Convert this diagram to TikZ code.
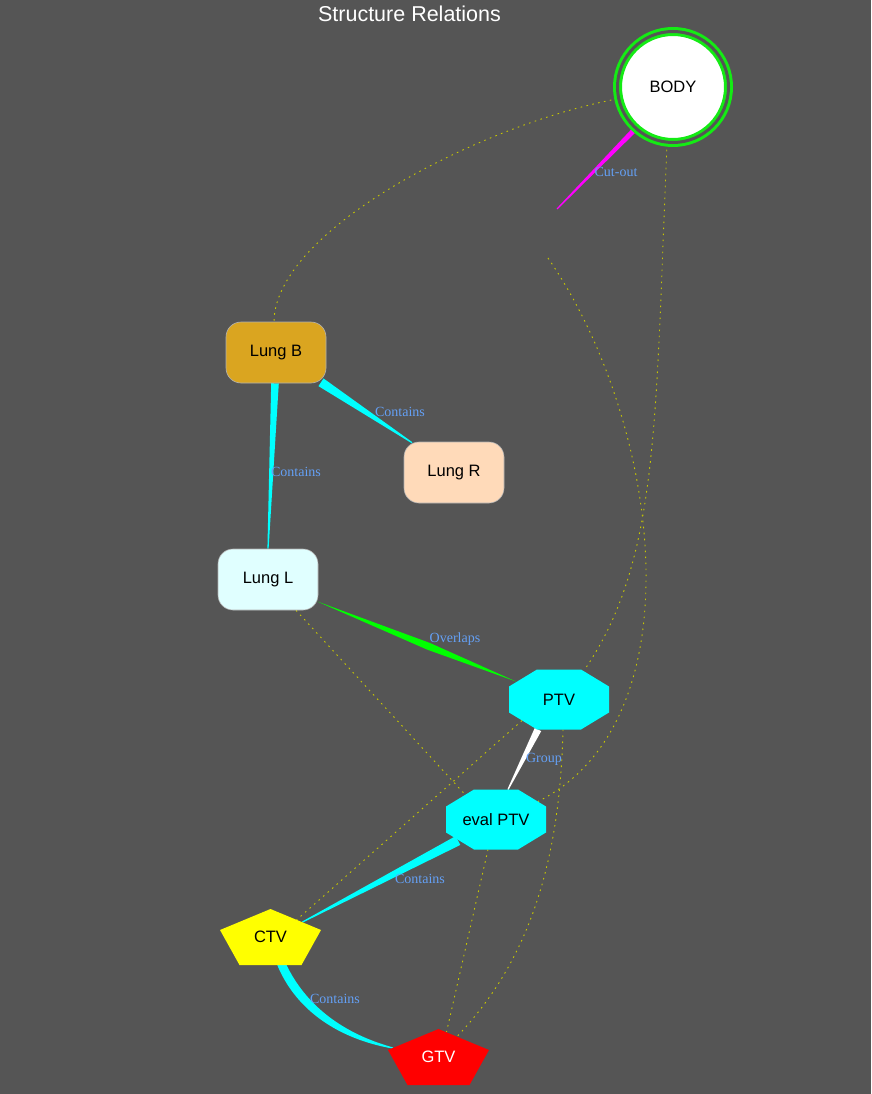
\documentclass[tikz,border=0pt]{standalone}
\usepackage{fontspec}
\setmainfont{Liberation Sans}
\newfontfamily\lblfont{Liberation Serif}
\usetikzlibrary{calc}
\pgfdeclarelayer{back}
\pgfdeclarelayer{edgelayer}
\pgfdeclarelayer{shapelayer}
\pgfsetlayers{back,edgelayer,shapelayer,main}
\definecolor{bg}{RGB}{85,85,85}
\definecolor{bodygreen}{RGB}{20,235,20}
\definecolor{lungb}{RGB}{218,165,32}
\definecolor{lungr}{RGB}{255,218,185}
\definecolor{lungl}{RGB}{224,255,255}
\definecolor{lblcol}{RGB}{100,160,245}
\definecolor{dotcol}{RGB}{200,200,0}
\definecolor{cyanc}{RGB}{0,255,255}
\definecolor{magc}{RGB}{255,0,255}
\definecolor{greenc}{RGB}{0,255,0}
\definecolor{yellowc}{RGB}{255,255,0}
\definecolor{redc}{RGB}{255,0,0}
\newcommand\taperedge[4]{\fill[#1] ($#2!#4!90:#3$) -- ($#3!0.6pt!-90:#2$) -- ($#3!0.6pt!90:#2$) -- ($#2!#4!-90:#3$) -- cycle;}
\newcommand\octagonat[2]{\fill[#1] ($(#2)+(-50,-13)$) -- ($(#2)+(-22,-30)$) -- ($(#2)+(22,-30)$) -- ($(#2)+(50,-13)$) -- ($(#2)+(50,13)$) -- ($(#2)+(22,30)$) -- ($(#2)+(-22,30)$) -- ($(#2)+(-50,13)$) -- cycle;}
\newcommand\pentagonat[2]{\fill[#1] ($(#2)+(0,-28)$) -- ($(#2)+(50.5,-7)$) -- ($(#2)+(31,28)$) -- ($(#2)+(-31,28)$) -- ($(#2)+(-50.5,-7)$) -- cycle;}
\tikzset{
  nodefont/.style={font=\fontsize{16.5pt}{18pt}\selectfont},
  bodynode/.style={circle, minimum size=111pt, inner sep=0pt, fill=white, draw=bodygreen, line width=3pt, double=bg, double distance=3pt, nodefont},
  rbox/.style={rounded corners=15pt, minimum width=100pt, minimum height=61pt, inner sep=0pt, draw=black!30, line width=0.6pt, nodefont},
  octo/.style={minimum width=100pt, minimum height=60pt, inner sep=0pt, nodefont},
  penta/.style={minimum width=101pt, minimum height=56pt, inner sep=0pt, nodefont},
  elabel/.style={text=lblcol, inner sep=0pt, font=\lblfont\fontsize{14pt}{16pt}\selectfont},
  dotedge/.style={draw=dotcol, line width=0.9pt, dash pattern=on 1.6pt off 4.4pt},
}
\begin{document}
\begin{tikzpicture}[x=1pt,y=-1pt]
\begin{pgfonlayer}{back}
\fill[bg] (0,0) rectangle (871,1094);
\end{pgfonlayer}
\useasboundingbox (0,0) rectangle (871,1094);

\node[text=white, font=\fontsize{21.5pt}{24pt}\selectfont] (title) at (409.5,14) {Structure Relations};

% nodes
\node[bodynode] (body) at (673,87) {BODY};
\coordinate (cut) at (552,234);
\node[rbox, fill=lungb] (lungB) at (276,352.5) {Lung B};
\node[rbox, fill=lungr] (lungR) at (454,472.5) {Lung R};
\node[rbox, fill=lungl] (lungL) at (268,579.5) {Lung L};
\node[octo] (ptv) at (559,699.5) {PTV};
\node[octo] (eptv) at (496,819.5) {eval PTV};
\node[penta] (ctv) at (270.5,937) {CTV};
\node[penta, text=white] (gtv) at (438.5,1057) {GTV};

\begin{pgfonlayer}{shapelayer}
\octagonat{cyanc}{ptv.center}
\octagonat{cyanc}{eptv.center}
\pentagonat{yellowc}{ctv.center}
\pentagonat{redc}{gtv.center}
\end{pgfonlayer}

\begin{pgfonlayer}{edgelayer}
% dotted edges
\draw[dotedge] (body.192) .. controls (480,125) and (275,230) .. ($(lungB.north)+(-2,0)$);
\draw[dotedge] (body.264) .. controls (655,420) and (660,560) .. ($(ptv.center)+(25,-29)$);
\draw[dotedge] ($(cut)+(-4,24)$) .. controls (660,420) and (700,720) .. ($(eptv.center)+(42,-18)$);
\draw[dotedge] ($(lungL.south)+(28,0)$) -- ($(eptv.center)+(-31,-25)$);
\draw[dotedge] ($(ptv.center)+(-37,21)$) -- ($(ctv.center)+(26,-17)$);
\draw[dotedge] ($(ptv.center)+(4,30)$) .. controls (560,860) and (530,960) .. ($(gtv.center)+(18.5,-20.5)$);
\draw[dotedge] ($(eptv.center)+(-8,30)$) -- ($(gtv.center)+(8,-25)$);

% tapered edges
\coordinate (c1s) at (body.228);
\coordinate (c1e) at ($(cut)+(5,-25)$);
\taperedge{magc}{(c1s)}{(c1e)}{2.6pt}

\coordinate (b1s) at ($(lungB.south)+(-1,0)$);
\coordinate (b1e) at (lungL.north);
\taperedge{cyanc}{(b1s)}{(b1e)}{3.8pt}

\coordinate (b2s) at ($(lungB.south)+(45,-1)$);
\coordinate (b2e) at ($(lungR.north)+(-42,1)$);
\taperedge{cyanc}{(b2s)}{(b2e)}{4.6pt}

\coordinate (ovs) at ($(lungL.east)+(-1,22)$);
\coordinate (ove) at ($(ptv.center)+(-43,-18)$);
\coordinate (ovm) at ($(ovs)!0.56!(ove)$);
\fill[greenc] (ovs) -- ($(ovm)!3.6pt!90:(ove)$) -- (ove) -- ($(ovm)!3.6pt!-90:(ove)$) -- cycle;

\coordinate (gs) at ($(ptv.center)+(-21,30)$);
\coordinate (ge) at ($(eptv.center)+(12,-30)$);
\taperedge{white}{(gs)}{(ge)}{3.6pt}

\coordinate (cs) at ($(eptv.center)+(-38,21)$);
\coordinate (ce) at ($(ctv.center)+(32,-15)$);
\taperedge{cyanc}{(cs)}{(ce)}{5pt}

\coordinate (gts) at ($(ctv.center)+(10.5,26)$);
\coordinate (gte) at ($(gtv.center)+(-45.5,-9)$);
\fill[cyanc] ($(gts)+(-3.8,1.8)$) .. controls ($(gts)+(13,43)$) and ($(gte)+(-60,-10)$) .. ($(gte)+(0,0.6)$)
  -- ($(gte)+(0,-0.6)$) .. controls ($(gte)+(-56,-16)$) and ($(gts)+(21,37)$) .. ($(gts)+(3.8,-1.8)$) -- cycle;
\end{pgfonlayer}

% edge labels
\node[elabel] (l1) at (616,172) {Cut-out};
\node[elabel] (l2) at (400,412) {Contains};
\node[elabel] (l3) at (296,472) {Contains};
\node[elabel] (l4) at (455,639) {Overlaps};
\node[elabel] (l5) at (544,759) {Group};
\node[elabel] (l6) at (420,879) {Contains};
\node[elabel] (l7) at (335,999) {Contains};
\end{tikzpicture}
\end{document}
